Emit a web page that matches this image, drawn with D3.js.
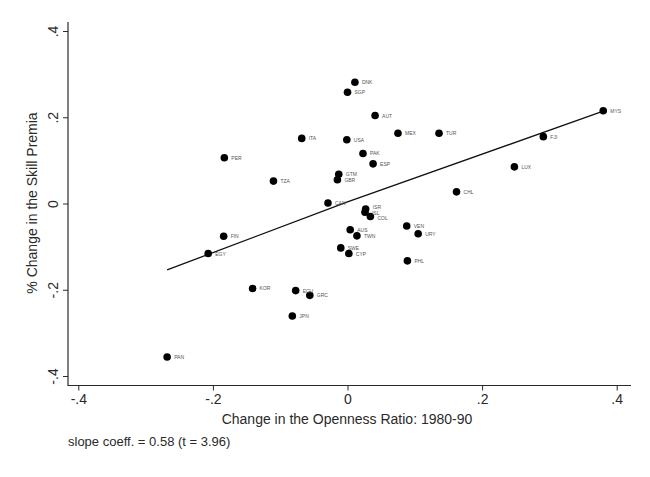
<!DOCTYPE html>
<html>
<head>
<meta charset="utf-8">
<script src="https://cdn.jsdelivr.net/npm/d3@7"></script>
<style>
  html, body { margin: 0; padding: 0; background: #fff; }
  svg { display: block; font-family: "Liberation Sans", Arial, sans-serif; }
</style>
</head>
<body>
<svg id="chart" width="650" height="477"></svg>
<script>
// ---- data ----
const countries = ["DNK","SGP","AUT","ITA","USA","MEX","TUR","PAK","ESP","GTM","GBR","CAN",
  "ISR","ISL","COL","VEN","URY","AUS","TWN","SWE","CYP","PHL","ECU","GRC","KOR","JPN",
  "PAN","FIN","EGY","PER","TZA","CHL","LUX","FJI","MYS"];
const opennessChange = [0.011,0.000,0.041,-0.068,-0.001,0.075,0.136,0.023,0.038,-0.013,-0.015,-0.029,
  0.027,0.026,0.034,0.088,0.105,0.004,0.014,-0.010,0.002,0.089,-0.077,-0.056,-0.141,-0.082,
  -0.268,-0.184,-0.207,-0.183,-0.110,0.162,0.248,0.291,0.380];
const skillPremiaChange = [0.281,0.258,0.204,0.151,0.148,0.163,0.163,0.116,0.092,0.068,0.055,0.001,
  -0.013,-0.020,-0.030,-0.052,-0.070,-0.061,-0.075,-0.103,-0.116,-0.133,-0.202,-0.213,-0.197,-0.261,
  -0.356,-0.076,-0.116,0.106,0.052,0.027,0.085,0.155,0.215];
const fitX = [-0.268, 0.0, 0.380];
const fitY = [-0.154, 0.004, 0.214];
const xTicks = [-0.4, -0.2, 0, 0.2, 0.4];
const yTicks = [-0.4, -0.2, 0, 0.2, 0.4];
const xTitle = "Change in the Openness Ratio: 1980-90";
const yTitle = "% Change in the Skill Premia";
const note = "slope coeff. = 0.58 (t = 3.96)";

// ---- drawing ----
const svg = d3.select("#chart");
const x = d3.scaleLinear().domain([-0.4, 0.4]).range([78.3, 616.7]);
const y = d3.scaleLinear().domain([-0.4, 0.4]).range([376, 31]);
const fmt = d => d === 0 ? "0" : d3.format(".1f")(d).replace("\u2212", "-").replace("0.", ".");
const axisColor = "#2a2a2a";

// x axis
const xAxisY = 385.5;
const gx = svg.append("g").attr("transform", `translate(0,${xAxisY})`)
  .call(d3.axisBottom(x).tickValues(xTicks).tickFormat(fmt).tickSize(5).tickPadding(4));
gx.select(".domain").remove();
gx.selectAll("line").attr("stroke", axisColor);
gx.selectAll("text").attr("font-size", 14).attr("fill", axisColor)
  .attr("font-family", "Liberation Sans, Arial, sans-serif");
svg.append("line").attr("x1", 67.5).attr("x2", 631).attr("y1", xAxisY).attr("y2", xAxisY)
  .attr("stroke", axisColor).attr("stroke-width", 1.2);

// y axis
const yAxisX = 68;
const gy = svg.append("g").attr("transform", `translate(${yAxisX},0)`)
  .call(d3.axisLeft(y).tickValues(yTicks).tickFormat(fmt).tickSize(5).tickPadding(4));
gy.select(".domain").remove();
gy.selectAll("line").attr("stroke", axisColor);
gy.selectAll("text").attr("font-size", 14).attr("fill", axisColor)
  .attr("font-family", "Liberation Sans, Arial, sans-serif")
  .attr("text-anchor", "middle").attr("x", null)
  .attr("transform", "translate(-15,0) rotate(-90)").attr("dy", "0.35em");
svg.append("line").attr("x1", yAxisX).attr("x2", yAxisX).attr("y1", 22).attr("y2", xAxisY)
  .attr("stroke", axisColor).attr("stroke-width", 1.2);

// titles
svg.append("text").attr("x", 347).attr("y", 424).attr("text-anchor", "middle")
  .attr("font-size", 14).attr("fill", axisColor).text(xTitle);
svg.append("text").attr("transform", `translate(37,${203}) rotate(-90)`)
  .attr("text-anchor", "middle").attr("font-size", 14).attr("fill", axisColor).text(yTitle);
svg.append("text").attr("x", 68).attr("y", 446).attr("font-size", 13)
  .attr("fill", axisColor).text(note);

// fitted line
const line = d3.line().x(d => x(d[0])).y(d => y(d[1]));
svg.append("path").datum(fitX.map((v, i) => [v, fitY[i]]))
  .attr("d", line).attr("fill", "none").attr("stroke", "#111").attr("stroke-width", 1.3);

// points
const pts = countries.map((c, i) => ({ c, x: opennessChange[i], y: skillPremiaChange[i] }));
svg.append("g").selectAll("circle").data(pts).join("circle")
  .attr("cx", d => x(d.x)).attr("cy", d => y(d.y)).attr("r", 3.8).attr("fill", "#000");
const labelShift = { ISR: -0.5, ISL: 2.5, COL: 3.5 };
svg.append("g").selectAll("text").data(pts).join("text")
  .attr("x", d => x(d.x) + 7)
  .attr("y", d => y(d.y) + (d.c in labelShift ? labelShift[d.c] : 2))
  .attr("font-size", 5).attr("fill", "#555").text(d => d.c);
</script>
</body>
</html>
